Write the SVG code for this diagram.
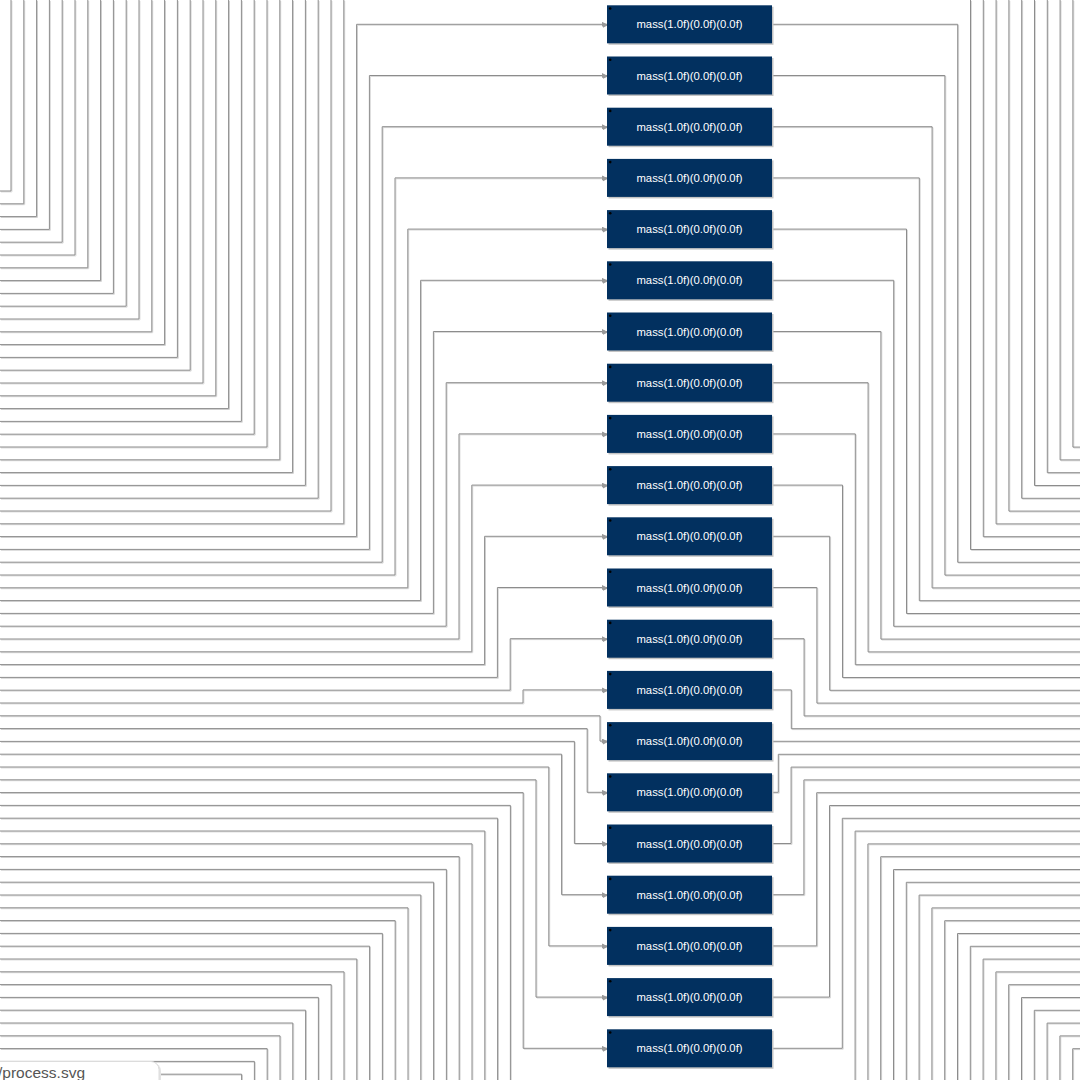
<svg xmlns="http://www.w3.org/2000/svg" xmlns:xlink="http://www.w3.org/1999/xlink" width="1080" height="1080" viewBox="0 0 1080 1080">
<style>
.w path{fill:none;stroke-width:1}
.node rect.b{fill:#02305f}
.node rect.s{fill:#c4c4c4}
.node circle{fill:#000}
.node text{font-family:"Liberation Sans",Arial,sans-serif;font-size:11.3px;fill:#ffffff;text-anchor:middle}
.in{marker-end:url(#arr)}
</style>
<defs>
<marker id="arr" markerUnits="userSpaceOnUse" markerWidth="6" markerHeight="6" refX="5" refY="2.5" orient="auto">
<path d="M0,0 L5,2.5 L0,5 Z" fill="#9a9a9a"/>
</marker>
</defs>
<rect width="1080" height="1080" fill="#ffffff"/>
<g id="connectors">
<use xlink:href="#wires" href="#wires" transform="translate(0.9,0.9)" stroke="#d6d6d6"/>
<g stroke="#8c8c8c">
<g id="wires" class="w">
<path d="M11 0V191H0"/><path d="M23.8 0V203.8H0"/><path d="M36.6 0V216.6H0"/><path d="M49.4 0V229.4H0"/><path d="M62.2 0V242.2H0"/><path d="M75 0V255H0"/><path d="M87.8 0V267.8H0"/><path d="M100.6 0V280.6H0"/><path d="M113.4 0V293.4H0"/><path d="M126.2 0V306.2H0"/><path d="M139 0V319H0"/><path d="M151.8 0V331.8H0"/><path d="M164.6 0V344.6H0"/><path d="M177.4 0V357.4H0"/><path d="M190.2 0V370.2H0"/><path d="M203 0V383H0"/><path d="M215.8 0V395.8H0"/><path d="M228.6 0V408.6H0"/><path d="M241.4 0V421.4H0"/><path d="M254.2 0V434.2H0"/><path d="M267 0V447H0"/><path d="M279.8 0V459.8H0"/><path d="M292.6 0V472.6H0"/><path d="M305.4 0V485.4H0"/><path d="M318.2 0V498.2H0"/><path d="M331 0V511H0"/><path d="M343.8 0V523.8H0"/>
<path class="in" d="M0 536.6H356.6V24.3H607"/>
<path class="in" d="M0 549.4H369.4V75.5H607"/>
<path class="in" d="M0 562.2H382.2V126.7H607"/>
<path class="in" d="M0 575H395V177.9H607"/>
<path class="in" d="M0 587.8H407.8V229.1H607"/>
<path class="in" d="M0 600.6H420.6V280.3H607"/>
<path class="in" d="M0 613.4H433.4V331.5H607"/>
<path class="in" d="M0 626.2H446.2V382.7H607"/>
<path class="in" d="M0 639H459V433.9H607"/>
<path class="in" d="M0 651.8H471.8V485.1H607"/>
<path class="in" d="M0 664.6H484.6V536.3H607"/>
<path class="in" d="M0 677.4H497.4V587.5H607"/>
<path class="in" d="M0 690.2H510.2V638.7H607"/>
<path class="in" d="M0 703H523V689.9H607"/>
<path class="in" d="M0 715.8H600V741.1H607"/>
<path class="in" d="M0 728.6H587.2V792.3H607"/>
<path class="in" d="M0 741.4H574.4V843.5H607"/>
<path class="in" d="M0 754.2H561.6V894.7H607"/>
<path class="in" d="M0 767H548.8V945.9H607"/>
<path class="in" d="M0 779.8H536V997.1H607"/>
<path class="in" d="M0 792.6H523.2V1048.3H607"/>
<path d="M0 805.4H510.4V1080"/><path d="M0 818.2H497.6V1080"/><path d="M0 831H484.8V1080"/><path d="M0 843.8H472V1080"/><path d="M0 856.6H459.2V1080"/><path d="M0 869.4H446.4V1080"/><path d="M0 882.2H433.6V1080"/><path d="M0 895H420.8V1080"/><path d="M0 907.8H408V1080"/><path d="M0 920.6H395.2V1080"/><path d="M0 933.4H382.4V1080"/><path d="M0 946.2H369.6V1080"/><path d="M0 959H356.8V1080"/><path d="M0 971.8H344V1080"/><path d="M0 984.6H331.2V1080"/><path d="M0 997.4H318.4V1080"/><path d="M0 1010.2H305.6V1080"/><path d="M0 1023H292.8V1080"/><path d="M0 1035.8H280V1080"/><path d="M0 1048.6H267.2V1080"/><path d="M0 1061.4H254.4V1080"/><path d="M0 1074.2H241.6V1080"/>
<path d="M1072.9 0V447.1H1080"/><path d="M1060.1 0V459.9H1080"/><path d="M1047.3 0V472.7H1080"/><path d="M1034.5 0V485.5H1080"/><path d="M1021.7 0V498.3H1080"/><path d="M1008.9 0V511.1H1080"/><path d="M996.1 0V523.9H1080"/><path d="M983.3 0V536.7H1080"/><path d="M970.5 0V549.5H1080"/>
<path d="M772 24.3H957.7V562.3H1080"/>
<path d="M772 75.5H944.9V575.1H1080"/>
<path d="M772 126.7H932.1V587.9H1080"/>
<path d="M772 177.9H919.3V600.7H1080"/>
<path d="M772 229.1H906.5V613.5H1080"/>
<path d="M772 280.3H893.7V626.3H1080"/>
<path d="M772 331.5H880.9V639.1H1080"/>
<path d="M772 382.7H868.1V651.9H1080"/>
<path d="M772 433.9H855.3V664.7H1080"/>
<path d="M772 485.1H842.5V677.5H1080"/>
<path d="M772 536.3H829.7V690.3H1080"/>
<path d="M772 587.5H816.9V703.1H1080"/>
<path d="M772 638.7H804.1V715.9H1080"/>
<path d="M772 689.9H791.3V728.7H1080"/>
<path d="M772 741.3H1080"/>
<path d="M772 792.3H778.3V754.3H1080"/>
<path d="M772 843.5H791.1V767.1H1080"/>
<path d="M772 894.7H803.9V779.9H1080"/>
<path d="M772 945.9H816.7V792.7H1080"/>
<path d="M772 997.1H829.5V805.5H1080"/>
<path d="M772 1048.3H842.3V818.3H1080"/>
<path d="M855.1 1080V831.1H1080"/><path d="M867.9 1080V843.9H1080"/><path d="M880.7 1080V856.7H1080"/><path d="M893.5 1080V869.5H1080"/><path d="M906.3 1080V882.3H1080"/><path d="M919.1 1080V895.1H1080"/><path d="M931.9 1080V907.9H1080"/><path d="M944.7 1080V920.7H1080"/><path d="M957.5 1080V933.5H1080"/><path d="M970.3 1080V946.3H1080"/><path d="M983.1 1080V959.1H1080"/><path d="M995.9 1080V971.9H1080"/><path d="M1008.7 1080V984.7H1080"/><path d="M1021.5 1080V997.5H1080"/><path d="M1034.3 1080V1010.3H1080"/><path d="M1047.1 1080V1023.1H1080"/><path d="M1059.9 1080V1035.9H1080"/><path d="M1072.7 1080V1048.7H1080"/>
</g>
</g>
</g>
<g id="nodes">
<g id="n0" class="node"><rect class="s" x="608.5" y="6.8" width="165" height="38"/><rect class="b" x="607" y="5.3" width="165" height="38"/><circle cx="610.2" cy="8.5" r="1.3"/><text x="689.5" y="28.4">mass(1.0f)(0.0f)(0.0f)</text></g>
<g id="n1" class="node"><rect class="s" x="608.5" y="58" width="165" height="38"/><rect class="b" x="607" y="56.5" width="165" height="38"/><circle cx="610.2" cy="59.7" r="1.3"/><text x="689.5" y="79.6">mass(1.0f)(0.0f)(0.0f)</text></g>
<g id="n2" class="node"><rect class="s" x="608.5" y="109.2" width="165" height="38"/><rect class="b" x="607" y="107.7" width="165" height="38"/><circle cx="610.2" cy="110.9" r="1.3"/><text x="689.5" y="130.8">mass(1.0f)(0.0f)(0.0f)</text></g>
<g id="n3" class="node"><rect class="s" x="608.5" y="160.4" width="165" height="38"/><rect class="b" x="607" y="158.9" width="165" height="38"/><circle cx="610.2" cy="162.1" r="1.3"/><text x="689.5" y="182">mass(1.0f)(0.0f)(0.0f)</text></g>
<g id="n4" class="node"><rect class="s" x="608.5" y="211.6" width="165" height="38"/><rect class="b" x="607" y="210.1" width="165" height="38"/><circle cx="610.2" cy="213.3" r="1.3"/><text x="689.5" y="233.2">mass(1.0f)(0.0f)(0.0f)</text></g>
<g id="n5" class="node"><rect class="s" x="608.5" y="262.8" width="165" height="38"/><rect class="b" x="607" y="261.3" width="165" height="38"/><circle cx="610.2" cy="264.5" r="1.3"/><text x="689.5" y="284.4">mass(1.0f)(0.0f)(0.0f)</text></g>
<g id="n6" class="node"><rect class="s" x="608.5" y="314" width="165" height="38"/><rect class="b" x="607" y="312.5" width="165" height="38"/><circle cx="610.2" cy="315.7" r="1.3"/><text x="689.5" y="335.6">mass(1.0f)(0.0f)(0.0f)</text></g>
<g id="n7" class="node"><rect class="s" x="608.5" y="365.2" width="165" height="38"/><rect class="b" x="607" y="363.7" width="165" height="38"/><circle cx="610.2" cy="366.9" r="1.3"/><text x="689.5" y="386.8">mass(1.0f)(0.0f)(0.0f)</text></g>
<g id="n8" class="node"><rect class="s" x="608.5" y="416.4" width="165" height="38"/><rect class="b" x="607" y="414.9" width="165" height="38"/><circle cx="610.2" cy="418.1" r="1.3"/><text x="689.5" y="438">mass(1.0f)(0.0f)(0.0f)</text></g>
<g id="n9" class="node"><rect class="s" x="608.5" y="467.6" width="165" height="38"/><rect class="b" x="607" y="466.1" width="165" height="38"/><circle cx="610.2" cy="469.3" r="1.3"/><text x="689.5" y="489.2">mass(1.0f)(0.0f)(0.0f)</text></g>
<g id="n10" class="node"><rect class="s" x="608.5" y="518.8" width="165" height="38"/><rect class="b" x="607" y="517.3" width="165" height="38"/><circle cx="610.2" cy="520.5" r="1.3"/><text x="689.5" y="540.4">mass(1.0f)(0.0f)(0.0f)</text></g>
<g id="n11" class="node"><rect class="s" x="608.5" y="570" width="165" height="38"/><rect class="b" x="607" y="568.5" width="165" height="38"/><circle cx="610.2" cy="571.7" r="1.3"/><text x="689.5" y="591.6">mass(1.0f)(0.0f)(0.0f)</text></g>
<g id="n12" class="node"><rect class="s" x="608.5" y="621.2" width="165" height="38"/><rect class="b" x="607" y="619.7" width="165" height="38"/><circle cx="610.2" cy="622.9" r="1.3"/><text x="689.5" y="642.8">mass(1.0f)(0.0f)(0.0f)</text></g>
<g id="n13" class="node"><rect class="s" x="608.5" y="672.4" width="165" height="38"/><rect class="b" x="607" y="670.9" width="165" height="38"/><circle cx="610.2" cy="674.1" r="1.3"/><text x="689.5" y="694">mass(1.0f)(0.0f)(0.0f)</text></g>
<g id="n14" class="node"><rect class="s" x="608.5" y="723.6" width="165" height="38"/><rect class="b" x="607" y="722.1" width="165" height="38"/><circle cx="610.2" cy="725.3" r="1.3"/><text x="689.5" y="745.2">mass(1.0f)(0.0f)(0.0f)</text></g>
<g id="n15" class="node"><rect class="s" x="608.5" y="774.8" width="165" height="38"/><rect class="b" x="607" y="773.3" width="165" height="38"/><circle cx="610.2" cy="776.5" r="1.3"/><text x="689.5" y="796.4">mass(1.0f)(0.0f)(0.0f)</text></g>
<g id="n16" class="node"><rect class="s" x="608.5" y="826" width="165" height="38"/><rect class="b" x="607" y="824.5" width="165" height="38"/><circle cx="610.2" cy="827.7" r="1.3"/><text x="689.5" y="847.6">mass(1.0f)(0.0f)(0.0f)</text></g>
<g id="n17" class="node"><rect class="s" x="608.5" y="877.2" width="165" height="38"/><rect class="b" x="607" y="875.7" width="165" height="38"/><circle cx="610.2" cy="878.9" r="1.3"/><text x="689.5" y="898.8">mass(1.0f)(0.0f)(0.0f)</text></g>
<g id="n18" class="node"><rect class="s" x="608.5" y="928.4" width="165" height="38"/><rect class="b" x="607" y="926.9" width="165" height="38"/><circle cx="610.2" cy="930.1" r="1.3"/><text x="689.5" y="950">mass(1.0f)(0.0f)(0.0f)</text></g>
<g id="n19" class="node"><rect class="s" x="608.5" y="979.6" width="165" height="38"/><rect class="b" x="607" y="978.1" width="165" height="38"/><circle cx="610.2" cy="981.3" r="1.3"/><text x="689.5" y="1001.2">mass(1.0f)(0.0f)(0.0f)</text></g>
<g id="n20" class="node"><rect class="s" x="608.5" y="1030.8" width="165" height="38"/><rect class="b" x="607" y="1029.3" width="165" height="38"/><circle cx="610.2" cy="1032.5" r="1.3"/><text x="689.5" y="1052.4">mass(1.0f)(0.0f)(0.0f)</text></g>
</g>
<g id="statusbar">
<rect x="-12" y="1063" width="173" height="30" rx="8" fill="#e4e4e4"/>
<rect x="-12" y="1061.5" width="171" height="30" rx="8" fill="#ffffff" stroke="#dcdcdc" stroke-width="1"/>
<text x="-2" y="1077.5" font-family="'Liberation Sans',Arial,sans-serif" font-size="15.5px" fill="#555555">/process.svg</text>
</g>
</svg>
